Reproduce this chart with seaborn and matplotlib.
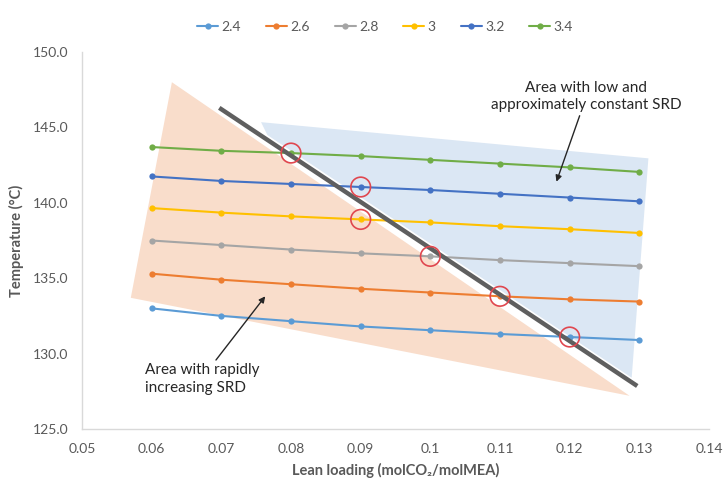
import numpy as np
import pandas as pd
import matplotlib
matplotlib.use("Agg")
import matplotlib.pyplot as plt
from matplotlib.patches import Polygon
import seaborn as sns

# Lean loading values (molCO2/molMEA)
lean_loading = [0.06, 0.07, 0.08, 0.09, 0.10, 0.11, 0.12, 0.13]

# Stripper temperature (°C) for each series (stripper pressure, bar)
series_names = ["2.4", "2.6", "2.8", "3", "3.2", "3.4"]
t_24 = [133.0, 132.5, 132.15, 131.8, 131.55, 131.3, 131.1, 130.9]
t_26 = [135.3, 134.9, 134.6, 134.3, 134.05, 133.8, 133.6, 133.45]
t_28 = [137.5, 137.2, 136.9, 136.65, 136.45, 136.2, 136.0, 135.8]
t_30 = [139.65, 139.35, 139.1, 138.9, 138.7, 138.45, 138.25, 138.0]
t_32 = [141.75, 141.45, 141.25, 141.05, 140.85, 140.6, 140.35, 140.1]
t_34 = [143.7, 143.45, 143.3, 143.1, 142.85, 142.6, 142.35, 142.05]
series_values = [t_24, t_26, t_28, t_30, t_32, t_34]

# Highlighted transition points: (lean loading, series)
marked_loading = [0.08, 0.09, 0.09, 0.10, 0.11, 0.12]
marked_series = ["3.4", "3.2", "3", "2.8", "2.6", "2.4"]

# Region outlines (lean loading, temperature)
rapid_region = [(0.0629, 148.0), (0.0570, 133.7), (0.1286, 127.2)]
flat_region = [(0.0757, 145.35), (0.1313, 142.95), (0.1289, 128.4), (0.0766, 144.5)]
boundary_x = [0.0697, 0.1297]
boundary_t = [146.3, 127.85]

x_ticks = [0.05, 0.06, 0.07, 0.08, 0.09, 0.10, 0.11, 0.12, 0.13, 0.14]
x_tick_labels = ["0.05", "0.06", "0.07", "0.08", "0.09", "0.1", "0.11", "0.12", "0.13", "0.14"]
y_ticks = [125, 130, 135, 140, 145, 150]

palette = {"2.4": "#5B9BD5", "2.6": "#ED7D31", "2.8": "#A5A5A5",
           "3": "#FFC000", "3.2": "#4472C4", "3.4": "#70AD47"}

rows = []
for name, vals in zip(series_names, series_values):
    for x, t in zip(lean_loading, vals):
        rows.append({"loading": x, "temp": t, "series": name})
df = pd.DataFrame(rows)

sns.set_theme(style="white")
plt.rcParams["font.family"] = ["Lato", "DejaVu Sans"]

fig = plt.figure(figsize=(7.24, 4.82), dpi=100)
ax = fig.add_axes([0.1133, 0.110, 0.866, 0.782])

# Shaded regions
ax.add_patch(Polygon(rapid_region, closed=True, facecolor="#f9ddcb", edgecolor="none", zorder=0))
ax.add_patch(Polygon(flat_region, closed=True, facecolor="#dbe7f4", edgecolor="none", zorder=0))

sns.lineplot(data=df, x="loading", y="temp", hue="series", hue_order=series_names,
             palette=palette, marker="o", markersize=4.5, markeredgewidth=0,
             linewidth=1.5, ax=ax, zorder=2)

# Boundary line between the two regions
ax.plot(boundary_x, boundary_t, color="#5f5f5f", linewidth=3.2, solid_capstyle="butt", zorder=3)

# Red circles around transition points
lookup = dict(zip(series_names, series_values))
mx = marked_loading
my = [lookup[s][lean_loading.index(x)] for x, s in zip(marked_loading, marked_series)]
ax.scatter(mx, my, s=200, facecolors="none", edgecolors="#e0474f", linewidths=1.2, zorder=4)

ax.set_xlim(0.05, 0.14)
ax.set_ylim(125, 150)
ax.set_xticks(x_ticks)
ax.set_xticklabels(x_tick_labels)
ax.set_yticks(y_ticks)
ax.set_yticklabels([f"{v:.1f}" for v in y_ticks])
ax.tick_params(axis="both", length=0, labelsize=10, labelcolor="#595959", pad=10)

for side in ["top", "right"]:
    ax.spines[side].set_visible(False)
for side in ["left", "bottom"]:
    ax.spines[side].set_color("#d9d9d9")
    ax.spines[side].set_linewidth(1.0)

ax.set_xlabel("Lean loading (molCO₂/molMEA)", fontsize=10.5, fontweight="bold",
              color="#595959", labelpad=6)
ax.set_ylabel("Temperature (°C)", fontsize=10.5, fontweight="bold",
              color="#595959", labelpad=6)

# Annotations
ax.annotate("Area with low and\napproximately constant SRD",
            xy=(0.1181, 141.4), xytext=(0.1224, 147.05),
            ha="center", va="center", fontsize=11, color="#262626", linespacing=1.35,
            arrowprops=dict(arrowstyle="-|>", color="#262626", lw=1.0,
                            shrinkA=0, shrinkB=0, mutation_scale=9), zorder=5)
ax.annotate("Area with rapidly\nincreasing SRD",
            xy=(0.0763, 133.8), xytext=(0.0590, 128.3),
            ha="left", va="center", fontsize=11, color="#262626", linespacing=1.35,
            arrowprops=dict(arrowstyle="-|>", color="#262626", lw=1.0,
                            shrinkA=0, shrinkB=0, mutation_scale=9,
                            relpos=(0.6, 1.0)), zorder=5)

handles, labels = ax.get_legend_handles_labels()
ax.legend_.remove()
fig.legend(handles, labels, loc="center", bbox_to_anchor=(0.532, 0.944), ncol=6,
           frameon=False, fontsize=10, labelcolor="#595959", handlelength=1.5,
           handletextpad=0.25, columnspacing=1.8)

fig.savefig("out.png", dpi=100)
